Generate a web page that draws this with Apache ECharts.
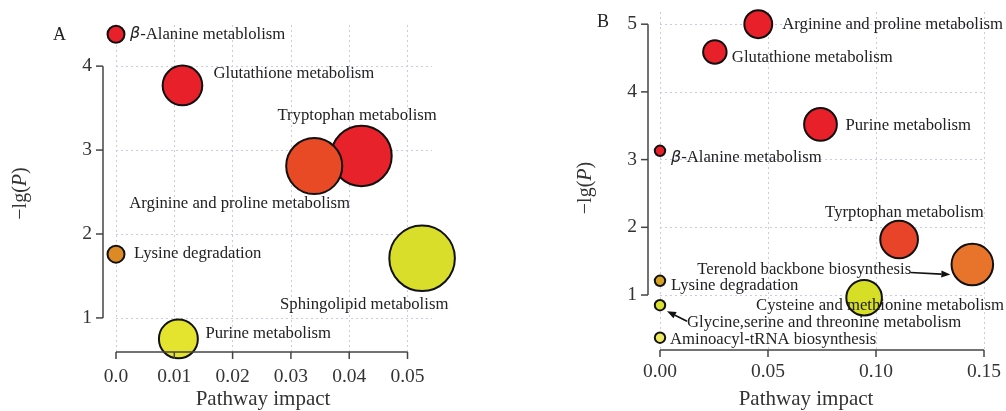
<!DOCTYPE html>
<html><head><meta charset="utf-8">
<script src="https://cdn.jsdelivr.net/npm/echarts@6/dist/echarts.min.js"></script>
<style>html,body{margin:0;padding:0;background:#fff}#c{width:1006px;height:411px}</style>
</head><body><div id="c"></div>
<script>
// ---------- Data: panel A ----------
const pathwaysA = ['β-Alanine metablolism', 'Glutathione metabolism', 'Tryptophan metabolism',
  'Arginine and proline metabolism', 'Lysine degradation', 'Sphingolipid metabolism', 'Purine metabolism'];
const impactA = [0, 0.0114, 0.0421, 0.0340, 0, 0.0525, 0.0107];
const logPA = [4.38, 3.77, 2.93, 2.81, 1.76, 1.71, 0.75];
const xTicksA = [0, 0.01, 0.02, 0.03, 0.04, 0.05];
const yTicksA = [1, 2, 3, 4];

// ---------- Data: panel B ----------
const pathwaysB = ['Arginine and proline metabolism', 'Glutathione metabolism', 'Purine metabolism',
  'β-Alanine metabolism', 'Tyrptophan metabolism', 'Terenold backbone biosynthesis',
  'Cysteine and methionine metabolism', 'Lysine degradation',
  'Glycine,serine and threonine metabolism', 'Aminoacyl-tRNA biosynthesis'];
const impactB = [0.0455, 0.0254, 0.0743, 0, 0.1107, 0.1446, 0.0945, 0, 0, 0];
const logPB = [5.00, 4.59, 3.52, 3.13, 1.82, 1.45, 0.96, 1.21, 0.85, 0.37];
const xTicksB = [0, 0.05, 0.10, 0.15];
const yTicksB = [1, 2, 3, 4, 5];

// ---------- Styles / layout ----------
const FONT = '"Liberation Serif", "DejaVu Serif", "Times New Roman", serif';
const colorsA = ['#E8202A', '#E8202A', '#E8222A', '#E84A25', '#DE8A24', '#D8DE2A', '#E4E42E'];
const colorsB = ['#E8202A', '#E8202A', '#E8202A', '#E8202A', '#E8442A', '#E8732A', '#D6DE26', '#D6A024', '#D8E030', '#EEE860'];
const labelOffA = [[14, 0], [31, -12], [-84, -40], [-185, 38], [18, -1], [-142, 46], [27, -5]];
const labelOffB = [[24, 0], [17, 6], [25, 1], [11, 7], [-74, -27], [-275, 5], [-108, 8], [11, 5], [27, 17], [10, 2]];
const arrowsB = [ // [point index, from offset, to offset] in px relative to point centre
  [5, [-62, 8], [-22, 10]],
  [8, [27, 16], [7, 6]]
];
const radiusA = x => 9 + 106 * Math.sqrt(x);
const radiusB = x => 5.7 + 41 * Math.sqrt(x);

const gridLine = { show: true, lineStyle: { color: '#C9C9EE', width: 1, type: [2, 3] } };
const axisColor = '#444';
const TICK_LEN = 7;

function xAxisCfg(gi, min, max, ticks, fmt, margin, nameGap, namePad) {
  return {
    type: 'value', gridIndex: gi, min: min, max: max,
    axisLine: { show: false },
    axisTick: { show: false, customValues: ticks },
    axisLabel: { customValues: ticks, formatter: fmt, fontFamily: FONT, fontSize: 19.5, color: '#333', margin: margin },
    splitLine: gridLine,
    name: 'Pathway impact', nameLocation: 'middle', nameGap: nameGap, nameMoveOverlap: false,
    nameTextStyle: { fontFamily: FONT, fontSize: 21, color: '#333', padding: namePad }
  };
}
function yAxisCfg(gi, min, max, ticks, offset, nameGap, namePad) {
  return {
    type: 'value', gridIndex: gi, min: min, max: max, offset: offset,
    axisLine: { show: false },
    axisTick: { show: false, customValues: ticks },
    axisLabel: { customValues: ticks, fontFamily: FONT, fontSize: 19.5, color: '#333', margin: 11 },
    splitLine: gridLine,
    name: '−lg({i|P})', nameLocation: 'middle', nameGap: nameGap, nameMoveOverlap: false,
    nameTextStyle: { fontFamily: FONT, fontSize: 20, color: '#333', padding: namePad,
      rich: { i: { fontStyle: 'italic', fontFamily: FONT, fontSize: 20, color: '#333' } } }
  };
}

function scatterSeries(gi, names, xs, ys, colors, offs, rfn) {
  return {
    type: 'scatter', xAxisIndex: gi, yAxisIndex: gi, clip: false,
    data: names.map((n, i) => ({
      name: n, value: [xs[i], ys[i]],
      symbolSize: 2 * rfn(xs[i]) - 1,
      itemStyle: { color: colors[i] },
      label: { offset: offs[i] }
    })),
    itemStyle: { borderColor: '#111', borderWidth: 2, opacity: 1 },
    label: {
      show: true, position: 'inside', align: 'left', verticalAlign: 'middle',
      fontFamily: FONT, fontSize: 16.7, color: '#222',
      formatter: p => p.name.replace('β', '{g|β}'),
      rich: { g: { fontStyle: 'italic', fontFamily: '"DejaVu Sans", sans-serif', fontSize: 16, color: '#222' } }
    },
    emphasis: { disabled: true }
  };
}

// R-style axis lines: span from first to last tick, y axis shifted left of the plot region
function axisLineSeries(gi, xTicks, yTicks, yMin, yOffset) {
  return {
    type: 'custom', xAxisIndex: gi, yAxisIndex: gi, silent: true, z: 3,
    data: [[xTicks[0], yMin]],
    renderItem: (params, api) => {
      const st = { stroke: axisColor, lineWidth: 1.5 };
      const children = [];
      const yb = api.coord([xTicks[0], yTicks[0]]);
      const yt = api.coord([xTicks[0], yTicks[yTicks.length - 1]]);
      const x0 = yb[0] - yOffset;
      children.push({ type: 'line', shape: { x1: x0, y1: yb[1], x2: x0, y2: yt[1] }, style: st });
      yTicks.forEach(t => {
        const p = api.coord([xTicks[0], t]);
        children.push({ type: 'line', shape: { x1: x0 - TICK_LEN, y1: p[1], x2: x0, y2: p[1] }, style: st });
      });
      const xl = api.coord([xTicks[0], yMin]);
      const xr = api.coord([xTicks[xTicks.length - 1], yMin]);
      children.push({ type: 'line', shape: { x1: xl[0], y1: xl[1], x2: xr[0], y2: xr[1] }, style: st });
      xTicks.forEach(t => {
        const p = api.coord([t, yMin]);
        children.push({ type: 'line', shape: { x1: p[0], y1: p[1], x2: p[0], y2: p[1] + TICK_LEN }, style: st });
      });
      return { type: 'group', children: children };
    }
  };
}

function arrowSeries(gi, xs, ys, arrows) {
  return {
    type: 'custom', xAxisIndex: gi, yAxisIndex: gi, silent: true, z: 4,
    data: arrows.map(a => [xs[a[0]], ys[a[0]]]),
    renderItem: (params, api) => {
      const c = api.coord([api.value(0), api.value(1)]);
      const a = arrows[params.dataIndex];
      const x1 = c[0] + a[1][0], y1 = c[1] + a[1][1];
      const x2 = c[0] + a[2][0], y2 = c[1] + a[2][1];
      const ang = Math.atan2(y2 - y1, x2 - x1);
      const hl = 9, hw = 3.5;
      const bx = x2 - hl * Math.cos(ang), by = y2 - hl * Math.sin(ang);
      const px = -Math.sin(ang) * hw, py = Math.cos(ang) * hw;
      return { type: 'group', children: [
        { type: 'line', shape: { x1: x1, y1: y1, x2: bx, y2: by }, style: { stroke: '#111', lineWidth: 1.6 } },
        { type: 'polygon', shape: { points: [[x2, y2], [bx + px, by + py], [bx - px, by - py]] }, style: { fill: '#111' } }
      ]};
    }
  };
}

const chart = echarts.init(document.getElementById('c'), null, { renderer: 'canvas' });
chart.setOption({
  backgroundColor: '#fff',
  animation: false,
  title: [
    { text: 'A', left: 48, top: 21, textStyle: { fontFamily: FONT, fontSize: 18, fontWeight: 'normal', color: '#222' } },
    { text: 'B', left: 592, top: 8, textStyle: { fontFamily: FONT, fontSize: 18, fontWeight: 'normal', color: '#222' } }
  ],
  grid: [
    { left: 116, top: 25, width: 316, height: 327, outerBoundsMode: 'none', containLabel: false },
    { left: 660, top: 12, width: 324, height: 338, outerBoundsMode: 'none', containLabel: false }
  ],
  xAxis: [
    xAxisCfg(0, 0, 0.0542, xTicksA, v => v === 0 ? '0.0' : v.toFixed(2), 15, 37, [0, 22, 0, 0]),
    xAxisCfg(1, 0, 0.15, xTicksB, v => v.toFixed(2), 12, 39, [0, 32, 0, 0])
  ],
  yAxis: [
    yAxisCfg(0, 0.594, 4.49, yTicksA, 13, 72, [0, 10, 0, 0]),
    yAxisCfg(1, 0.188, 5.18, yTicksB, 12, 52, [0, 14, 0, 0])
  ],
  series: [
    axisLineSeries(0, xTicksA, yTicksA, 0.594, 13),
    axisLineSeries(1, xTicksB, yTicksB, 0.188, 12),
    scatterSeries(0, pathwaysA, impactA, logPA, colorsA, labelOffA, radiusA),
    scatterSeries(1, pathwaysB, impactB, logPB, colorsB, labelOffB, radiusB),
    arrowSeries(1, impactB, logPB, arrowsB)
  ]
});
</script>
</body></html>
